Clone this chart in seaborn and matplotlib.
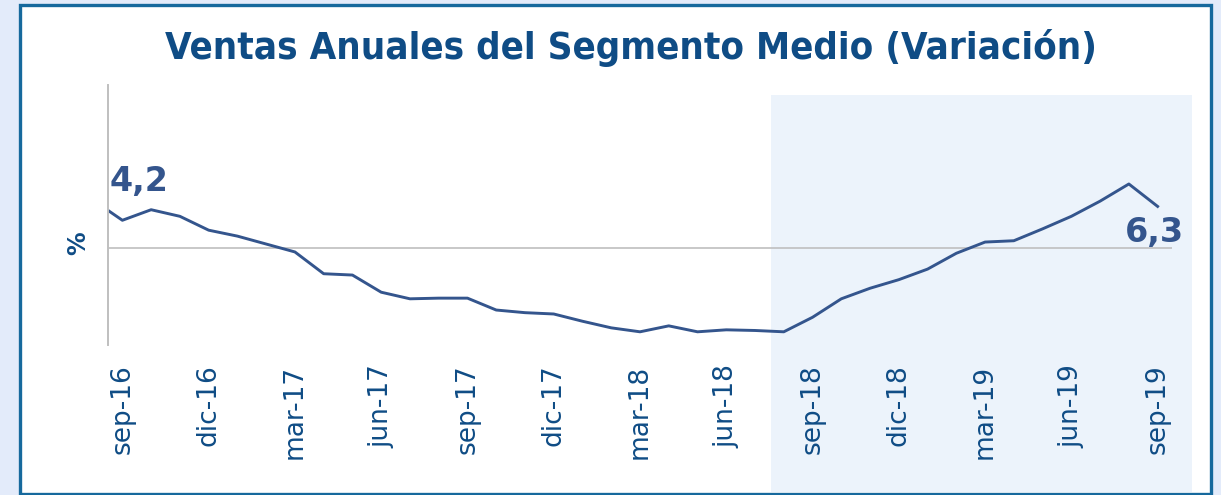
import matplotlib
matplotlib.use('Agg')
import matplotlib.pyplot as plt
import seaborn as sns
import pandas as pd
import numpy as np
from matplotlib.patches import Rectangle

# datos (variación anual, %)
meses = ['ago-16', 'sep-16', 'oct-16', 'nov-16', 'dic-16', 'ene-17', 'feb-17', 'mar-17',
         'abr-17', 'may-17', 'jun-17', 'jul-17', 'ago-17', 'sep-17', 'oct-17', 'nov-17',
         'dic-17', 'ene-18', 'feb-18', 'mar-18', 'abr-18', 'may-18', 'jun-18', 'jul-18',
         'ago-18', 'sep-18', 'oct-18', 'nov-18', 'dic-18', 'ene-19', 'feb-19', 'mar-19',
         'abr-19', 'may-19', 'jun-19', 'jul-19', 'ago-19', 'sep-19']
variacion = [7.2, 4.2, 5.8, 4.8, 2.7, 1.8, 0.6, -0.6,
             -3.9, -4.1, -6.7, -7.7, -7.6, -7.6, -9.4, -9.8,
             -10.0, -11.1, -12.1, -12.7, -11.8, -12.7, -12.4, -12.5,
             -12.7, -10.5, -7.7, -6.1, -4.8, -3.2, -0.8, 0.9,
             1.1, 2.9, 4.8, 7.1, 9.7, 6.3]
etiquetas_x = ['sep-16', 'dic-16', 'mar-17', 'jun-17', 'sep-17', 'dic-17', 'mar-18',
               'jun-18', 'sep-18', 'dic-18', 'mar-19', 'jun-19', 'sep-19']
rotulos = {'sep-16': '4,2', 'sep-19': '6,3'}

df = pd.DataFrame({'mes': meses, 'var': variacion})
df['pos'] = np.arange(len(df))

azul_linea = '#34558d'
azul_texto = '#0f4c85'

W, H = 1221, 495
fig = plt.figure(figsize=(W / 100, H / 100), dpi=100)
fig.patch.set_facecolor('#e3ebfa')

# panel blanco con borde
fig.patches.append(Rectangle((20 / W, 1 - 494 / H), (1211 - 20) / W, (494 - 5) / H,
                             transform=fig.transFigure, facecolor='white',
                             edgecolor='#16699d', linewidth=2.4, zorder=-3))
# zona sombreada (último año)
fig.patches.append(Rectangle((771 / W, 1 - 492 / H), (1192 - 771) / W, (492 - 95) / H,
                             transform=fig.transFigure, facecolor='#ecf3fb',
                             edgecolor='none', zorder=-2))

ax = fig.add_axes([108 / W, 1 - 345 / H, (1172 - 108) / W, (345 - 85) / H])
ax.set_facecolor('none')

sns.lineplot(data=df, x='pos', y='var', ax=ax, color=azul_linea, linewidth=2.1)
ax.axhline(0, color='#bfbfbf', linewidth=1.2, zorder=1)

ax.set_xlim(0.5, 37.5)
ax.set_ylim(-14.7, 24.7)

ticks = df.loc[df['mes'].isin(etiquetas_x), 'pos']
ax.set_xticks(ticks)
ax.set_xticklabels(etiquetas_x, rotation=90, fontsize=19, color=azul_texto)
ax.tick_params(axis='x', length=0, pad=14)
ax.set_yticks([])
ax.set_xlabel('')
ax.set_ylabel('%', fontsize=17, fontweight='bold', color=azul_texto)
ax.yaxis.set_label_coords(-0.017, 0.392)

for s in ['top', 'right', 'bottom']:
    ax.spines[s].set_visible(False)
ax.spines['left'].set_color('#bfbfbf')
ax.spines['left'].set_linewidth(1.4)

for mes, txt in rotulos.items():
    fila = df[df['mes'] == mes].iloc[0]
    if mes == 'sep-16':
        ax.annotate(txt, (fila['pos'], fila['var']), xytext=(-9, 16), textcoords='offset points',
                    ha='left', va='bottom', fontsize=24, fontweight='bold', color=azul_linea,
                    annotation_clip=False)
    else:
        ax.annotate(txt, (fila['pos'], fila['var']), xytext=(-2, -7), textcoords='offset points',
                    ha='center', va='top', fontsize=24, fontweight='bold', color=azul_linea,
                    annotation_clip=False)

fig.text(631 / W, 1 - 48 / H, 'Ventas Anuales del Segmento Medio (Variación)',
         ha='center', va='center', fontsize=27.5, fontweight='bold', color=azul_texto,
         fontstretch='condensed')

fig.savefig('out.png', dpi=100, facecolor=fig.get_facecolor())
